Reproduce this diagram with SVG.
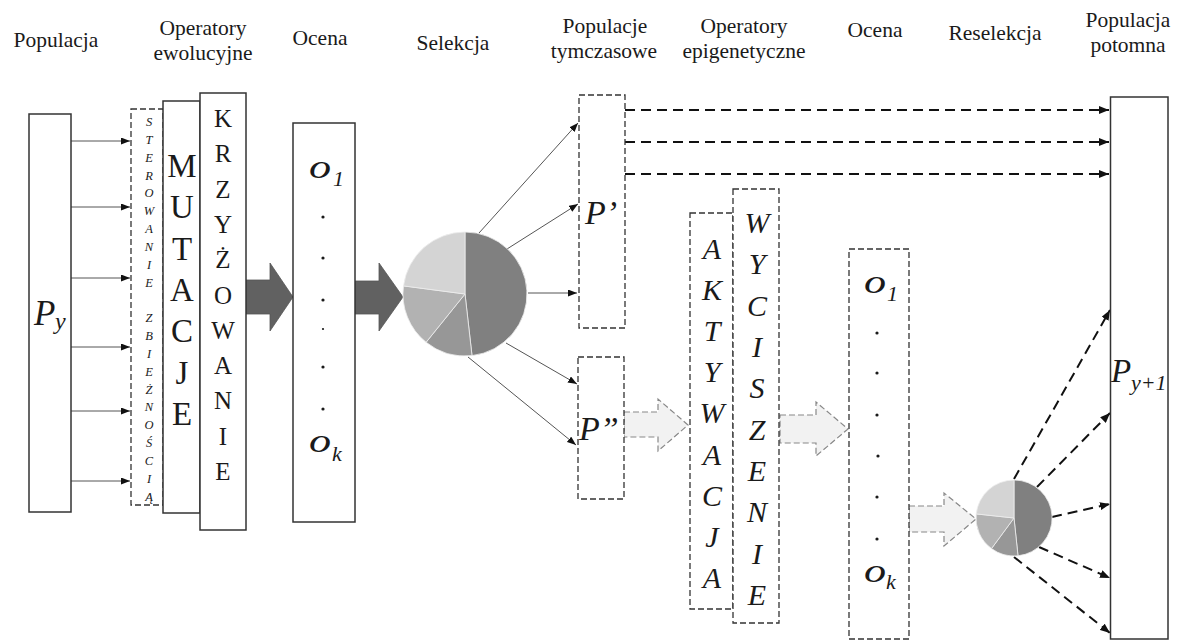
<svg xmlns="http://www.w3.org/2000/svg" width="1181" height="642" viewBox="0 0 1181 642">
  <defs>
    <marker id="headThin" markerUnits="userSpaceOnUse" markerWidth="9" markerHeight="7" refX="9" refY="3.5" orient="auto">
      <path d="M0,0 L9,3.5 L0,7 z" fill="#111"/>
    </marker>
    <marker id="headThick" markerUnits="userSpaceOnUse" markerWidth="10" markerHeight="8" refX="10" refY="4" orient="auto">
      <path d="M0,0 L10,4 L0,8 z" fill="#111"/>
    </marker>
  </defs>
  <rect width="1181" height="642" fill="#fff"/>

  <!-- column headings -->
  <g id="headers" fill="#1a1a1a" font-size="21.5" text-anchor="middle">
    <text font-family="'Liberation Serif', Tinos, 'Times New Roman', serif" x="56" y="47">Populacja</text>
    <text font-family="'Liberation Serif', Tinos, 'Times New Roman', serif" x="203" y="35">Operatory</text>
    <text font-family="'Liberation Serif', Tinos, 'Times New Roman', serif" x="203" y="60">ewolucyjne</text>
    <text font-family="'Liberation Serif', Tinos, 'Times New Roman', serif" x="320" y="45">Ocena</text>
    <text font-family="'Liberation Serif', Tinos, 'Times New Roman', serif" x="453" y="50">Selekcja</text>
    <text font-family="'Liberation Serif', Tinos, 'Times New Roman', serif" x="605" y="33">Populacje</text>
    <text font-family="'Liberation Serif', Tinos, 'Times New Roman', serif" x="604" y="58">tymczasowe</text>
    <text font-family="'Liberation Serif', Tinos, 'Times New Roman', serif" x="744" y="33">Operatory</text>
    <text font-family="'Liberation Serif', Tinos, 'Times New Roman', serif" x="744" y="58">epigenetyczne</text>
    <text font-family="'Liberation Serif', Tinos, 'Times New Roman', serif" x="875" y="37">Ocena</text>
    <text font-family="'Liberation Serif', Tinos, 'Times New Roman', serif" x="995" y="40">Reselekcja</text>
    <text font-family="'Liberation Serif', Tinos, 'Times New Roman', serif" x="1128" y="27">Populacja</text>
    <text font-family="'Liberation Serif', Tinos, 'Times New Roman', serif" x="1128" y="52">potomna</text>
  </g>

  <!-- connectors -->
  <g id="connectors">
    <!-- population to convergence control -->
    <g stroke="#555" stroke-width="1" fill="none" marker-end="url(#headThin)">
      <line x1="71" y1="141" x2="130" y2="141"/>
      <line x1="71" y1="207" x2="130" y2="207"/>
      <line x1="71" y1="278" x2="130" y2="278"/>
      <line x1="71" y1="347" x2="130" y2="347"/>
      <line x1="71" y1="411" x2="130" y2="411"/>
      <line x1="71" y1="481" x2="130" y2="481"/>
      <!-- selection to temporary populations -->
      <line x1="479" y1="233" x2="578" y2="123"/>
      <line x1="507" y1="249" x2="578" y2="204"/>
      <line x1="528" y1="293" x2="577" y2="293"/>
      <line x1="506" y1="343" x2="577" y2="384"/>
      <line x1="468" y1="357" x2="576" y2="445"/>
    </g>
    <!-- block arrows -->
    <g fill="#616161" stroke="#555" stroke-width="0.8">
      <polygon points="246,280 270,280 270,263 293,297 270,331 270,314 246,314"/>
      <polygon points="355,281 379,281 379,263 403,297 379,331 379,314 355,314"/>
    </g>
    <!-- thick dashed arrows into the offspring population -->
    <g stroke="#111" stroke-width="2" stroke-dasharray="10 6" fill="none" marker-end="url(#headThick)">
      <line x1="625" y1="110" x2="1109" y2="110"/>
      <line x1="625" y1="142" x2="1109" y2="142"/>
      <line x1="625" y1="174" x2="1109" y2="174"/>
      <line x1="1014" y1="479" x2="1110" y2="310"/>
      <line x1="1037" y1="487" x2="1110" y2="413"/>
      <line x1="1052" y1="517" x2="1110" y2="504"/>
      <line x1="1039" y1="547" x2="1110" y2="578"/>
      <line x1="1014" y1="557" x2="1110" y2="633"/>
    </g>
    <!-- light dashed block arrows -->
    <g fill="#f2f2f2" stroke="#888" stroke-width="1.2" stroke-dasharray="6 3">
      <polygon points="624,412 658,412 658,399 688,425 658,451 658,437 624,437"/>
      <polygon points="780,415 816,415 816,402 848,429 816,456 816,443 780,443"/>
      <polygon points="909,506 944,506 944,493 976,519 944,546 944,532 909,532"/>
    </g>
  </g>

  <g id="population" fill="#1a1a1a" font-style="italic">
    <rect x="29" y="114" width="42" height="398" fill="#fff" stroke="#333" stroke-width="1.5"/>
    <text font-family="'Liberation Serif', Tinos, 'Times New Roman', serif" x="34" y="325" font-size="35">P</text>
    <text font-family="'Liberation Serif', Tinos, 'Times New Roman', serif" x="55" y="329" font-size="24">y</text>
  </g>

  <g id="convergence-control">
    <rect x="131" y="109" width="32" height="396" fill="#fff" stroke="#333" stroke-width="1.3" stroke-dasharray="6 3"/>
    <g fill="#1a1a1a" font-style="italic" font-size="12.5" text-anchor="middle">
      <text font-family="'Liberation Serif', Tinos, 'Times New Roman', serif" x="149" y="126">S</text>
      <text font-family="'Liberation Serif', Tinos, 'Times New Roman', serif" x="149" y="144">T</text>
      <text font-family="'Liberation Serif', Tinos, 'Times New Roman', serif" x="149" y="162">E</text>
      <text font-family="'Liberation Serif', Tinos, 'Times New Roman', serif" x="149" y="180">R</text>
      <text font-family="'Liberation Serif', Tinos, 'Times New Roman', serif" x="149" y="197">O</text>
      <text font-family="'Liberation Serif', Tinos, 'Times New Roman', serif" x="149" y="215">W</text>
      <text font-family="'Liberation Serif', Tinos, 'Times New Roman', serif" x="149" y="233">A</text>
      <text font-family="'Liberation Serif', Tinos, 'Times New Roman', serif" x="149" y="251">N</text>
      <text font-family="'Liberation Serif', Tinos, 'Times New Roman', serif" x="149" y="269">I</text>
      <text font-family="'Liberation Serif', Tinos, 'Times New Roman', serif" x="149" y="287">E</text>
      <text font-family="'Liberation Serif', Tinos, 'Times New Roman', serif" x="149" y="322">Z</text>
      <text font-family="'Liberation Serif', Tinos, 'Times New Roman', serif" x="149" y="340">B</text>
      <text font-family="'Liberation Serif', Tinos, 'Times New Roman', serif" x="149" y="358">I</text>
      <text font-family="'Liberation Serif', Tinos, 'Times New Roman', serif" x="149" y="376">E</text>
      <text font-family="'Liberation Serif', Tinos, 'Times New Roman', serif" x="149" y="394">Ż</text>
      <text font-family="'Liberation Serif', Tinos, 'Times New Roman', serif" x="149" y="411">N</text>
      <text font-family="'Liberation Serif', Tinos, 'Times New Roman', serif" x="149" y="429">O</text>
      <text font-family="'Liberation Serif', Tinos, 'Times New Roman', serif" x="149" y="447">Ś</text>
      <text font-family="'Liberation Serif', Tinos, 'Times New Roman', serif" x="149" y="465">C</text>
      <text font-family="'Liberation Serif', Tinos, 'Times New Roman', serif" x="149" y="483">I</text>
      <text font-family="'Liberation Serif', Tinos, 'Times New Roman', serif" x="149" y="501">Ą</text>
    </g>
  </g>

  <g id="mutation">
    <rect x="163" y="101" width="37" height="412" fill="#fff" stroke="#333" stroke-width="1.5"/>
    <g fill="#1a1a1a" font-size="33" text-anchor="middle">
      <text font-family="'Liberation Serif', Tinos, 'Times New Roman', serif" x="182" y="177">M</text>
      <text font-family="'Liberation Serif', Tinos, 'Times New Roman', serif" x="182" y="218">U</text>
      <text font-family="'Liberation Serif', Tinos, 'Times New Roman', serif" x="182" y="260">T</text>
      <text font-family="'Liberation Serif', Tinos, 'Times New Roman', serif" x="182" y="301">A</text>
      <text font-family="'Liberation Serif', Tinos, 'Times New Roman', serif" x="182" y="342">C</text>
      <text font-family="'Liberation Serif', Tinos, 'Times New Roman', serif" x="182" y="384">J</text>
      <text font-family="'Liberation Serif', Tinos, 'Times New Roman', serif" x="182" y="425">E</text>
    </g>
  </g>

  <g id="crossover">
    <rect x="200" y="93" width="46" height="437" fill="#fff" stroke="#333" stroke-width="1.5"/>
    <g fill="#1a1a1a" font-size="25" text-anchor="middle">
      <text font-family="'Liberation Serif', Tinos, 'Times New Roman', serif" x="223" y="127">K</text>
      <text font-family="'Liberation Serif', Tinos, 'Times New Roman', serif" x="223" y="162">R</text>
      <text font-family="'Liberation Serif', Tinos, 'Times New Roman', serif" x="223" y="198">Z</text>
      <text font-family="'Liberation Serif', Tinos, 'Times New Roman', serif" x="223" y="233">Y</text>
      <text font-family="'Liberation Serif', Tinos, 'Times New Roman', serif" x="223" y="268">Ż</text>
      <text font-family="'Liberation Serif', Tinos, 'Times New Roman', serif" x="223" y="304">O</text>
      <text font-family="'Liberation Serif', Tinos, 'Times New Roman', serif" x="223" y="339">W</text>
      <text font-family="'Liberation Serif', Tinos, 'Times New Roman', serif" x="223" y="374">A</text>
      <text font-family="'Liberation Serif', Tinos, 'Times New Roman', serif" x="223" y="409">N</text>
      <text font-family="'Liberation Serif', Tinos, 'Times New Roman', serif" x="223" y="445">I</text>
      <text font-family="'Liberation Serif', Tinos, 'Times New Roman', serif" x="223" y="480">E</text>
    </g>
  </g>

  <g id="evaluation" fill="#1a1a1a" font-style="italic">
    <rect x="293" y="123" width="62" height="399" fill="#fff" stroke="#333" stroke-width="1.5"/>
    <text font-family="'Liberation Serif', Tinos, 'Times New Roman', serif" x="309" y="178" font-size="34" transform="translate(309,0) scale(1.3,1) translate(-309,0)">o</text>
    <text font-family="'Liberation Serif', Tinos, 'Times New Roman', serif" x="333" y="186" font-size="22">1</text>
    <circle cx="323" cy="217" r="1.6"/>
    <circle cx="323" cy="258" r="1.6"/>
    <circle cx="323" cy="300" r="1.6"/>
    <circle cx="323" cy="329" r="1.1"/>
    <circle cx="323" cy="367" r="1.6"/>
    <circle cx="323" cy="409" r="1.6"/>
    <text font-family="'Liberation Serif', Tinos, 'Times New Roman', serif" x="309" y="452" font-size="34" transform="translate(309,0) scale(1.3,1) translate(-309,0)">o</text>
    <text font-family="'Liberation Serif', Tinos, 'Times New Roman', serif" x="332" y="461" font-size="22">k</text>
  </g>

  <g id="selection" stroke="#eee" stroke-width="0.8">
    <path fill="#808080" d="M465,294 L465,232 A62,62 0 0 1 472,355.6 Z"/>
    <path fill="#979797" d="M465,294 L472,355.6 A62,62 0 0 1 426.1,342.3 Z"/>
    <path fill="#b2b2b2" d="M465,294 L426.1,342.3 A62,62 0 0 1 403.5,285.9 Z"/>
    <path fill="#d4d4d4" d="M465,294 L403.5,285.9 A62,62 0 0 1 465,232 Z"/>
  </g>

  <g id="temp-population-1" fill="#1a1a1a" font-style="italic">
    <rect x="579" y="95" width="46" height="233" fill="#fff" stroke="#333" stroke-width="1.3" stroke-dasharray="6 3"/>
    <text font-family="'Liberation Serif', Tinos, 'Times New Roman', serif" x="585" y="224" font-size="34">P’</text>
  </g>

  <g id="temp-population-2" fill="#1a1a1a" font-style="italic">
    <rect x="578" y="357" width="46" height="142" fill="#fff" stroke="#333" stroke-width="1.3" stroke-dasharray="6 3"/>
    <text font-family="'Liberation Serif', Tinos, 'Times New Roman', serif" x="579" y="440" font-size="34">P”</text>
  </g>

  <g id="activation">
    <rect x="690" y="213" width="43" height="396" fill="#fff" stroke="#333" stroke-width="1.3" stroke-dasharray="6 3"/>
    <g fill="#1a1a1a" font-style="italic" font-size="30" text-anchor="middle">
      <text font-family="'Liberation Serif', Tinos, 'Times New Roman', serif" x="712" y="259">A</text>
      <text font-family="'Liberation Serif', Tinos, 'Times New Roman', serif" x="712" y="300">K</text>
      <text font-family="'Liberation Serif', Tinos, 'Times New Roman', serif" x="712" y="341">T</text>
      <text font-family="'Liberation Serif', Tinos, 'Times New Roman', serif" x="712" y="382">Y</text>
      <text font-family="'Liberation Serif', Tinos, 'Times New Roman', serif" x="712" y="423">W</text>
      <text font-family="'Liberation Serif', Tinos, 'Times New Roman', serif" x="712" y="465">A</text>
      <text font-family="'Liberation Serif', Tinos, 'Times New Roman', serif" x="712" y="506">C</text>
      <text font-family="'Liberation Serif', Tinos, 'Times New Roman', serif" x="712" y="547">J</text>
      <text font-family="'Liberation Serif', Tinos, 'Times New Roman', serif" x="712" y="588">A</text>
    </g>
  </g>

  <g id="silencing">
    <rect x="733" y="189" width="46" height="434" fill="#fff" stroke="#333" stroke-width="1.3" stroke-dasharray="6 3"/>
    <g fill="#1a1a1a" font-style="italic" font-size="30" text-anchor="middle">
      <text font-family="'Liberation Serif', Tinos, 'Times New Roman', serif" x="757" y="233">W</text>
      <text font-family="'Liberation Serif', Tinos, 'Times New Roman', serif" x="757" y="274">Y</text>
      <text font-family="'Liberation Serif', Tinos, 'Times New Roman', serif" x="757" y="316">C</text>
      <text font-family="'Liberation Serif', Tinos, 'Times New Roman', serif" x="757" y="357">I</text>
      <text font-family="'Liberation Serif', Tinos, 'Times New Roman', serif" x="757" y="398">S</text>
      <text font-family="'Liberation Serif', Tinos, 'Times New Roman', serif" x="757" y="440">Z</text>
      <text font-family="'Liberation Serif', Tinos, 'Times New Roman', serif" x="757" y="481">E</text>
      <text font-family="'Liberation Serif', Tinos, 'Times New Roman', serif" x="757" y="522">N</text>
      <text font-family="'Liberation Serif', Tinos, 'Times New Roman', serif" x="757" y="564">I</text>
      <text font-family="'Liberation Serif', Tinos, 'Times New Roman', serif" x="757" y="605">E</text>
    </g>
  </g>

  <g id="re-evaluation" fill="#1a1a1a" font-style="italic">
    <rect x="849" y="249" width="60" height="390" fill="#fff" stroke="#333" stroke-width="1.3" stroke-dasharray="6 3"/>
    <text font-family="'Liberation Serif', Tinos, 'Times New Roman', serif" x="864" y="293" font-size="34" transform="translate(864,0) scale(1.3,1) translate(-864,0)">o</text>
    <text font-family="'Liberation Serif', Tinos, 'Times New Roman', serif" x="887" y="301" font-size="22">1</text>
    <circle cx="877" cy="333" r="1.6"/>
    <circle cx="877" cy="373" r="1.6"/>
    <circle cx="877" cy="415" r="1.6"/>
    <circle cx="878" cy="456" r="1.6"/>
    <circle cx="877" cy="497" r="1.6"/>
    <circle cx="877" cy="539" r="1.6"/>
    <text font-family="'Liberation Serif', Tinos, 'Times New Roman', serif" x="864" y="582" font-size="34" transform="translate(864,0) scale(1.3,1) translate(-864,0)">o</text>
    <text font-family="'Liberation Serif', Tinos, 'Times New Roman', serif" x="886" y="589" font-size="22">k</text>
  </g>

  <g id="reselection" stroke="#eee" stroke-width="0.8">
    <path fill="#808080" d="M1014,518 L1014,480 A38,38 0 0 1 1018,555.8 Z"/>
    <path fill="#979797" d="M1014,518 L1018,555.8 A38,38 0 0 1 991.5,548.6 Z"/>
    <path fill="#b2b2b2" d="M1014,518 L991.5,548.6 A38,38 0 0 1 976.2,513.9 Z"/>
    <path fill="#d4d4d4" d="M1014,518 L976.2,513.9 A38,38 0 0 1 1014,480 Z"/>
  </g>

  <g id="offspring" fill="#1a1a1a" font-style="italic">
    <rect x="1110.5" y="97" width="57.5" height="542" fill="#fff" stroke="#333" stroke-width="1.5"/>
    <text font-family="'Liberation Serif', Tinos, 'Times New Roman', serif" x="1111" y="382" font-size="33">P</text>
    <text font-family="'Liberation Serif', Tinos, 'Times New Roman', serif" x="1131" y="390" font-size="22">y+1</text>
  </g>
</svg>
